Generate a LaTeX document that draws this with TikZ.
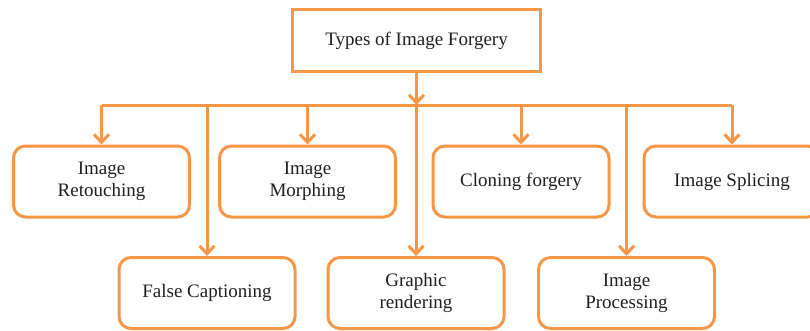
\documentclass[tikz,border=0pt]{standalone}
\usepackage{fontspec}
\setmainfont{Liberation Serif}
\usetikzlibrary{arrows.meta}
\definecolor{forgeorange}{RGB}{247,150,70}
\definecolor{forgetext}{RGB}{35,31,32}
\tikzset{
  typebox/.style={draw=forgeorange, line width=3pt, rounded corners=12pt, fill=white,
    minimum width=176pt, minimum height=71pt, align=center, text=forgetext,
    font=\fontsize{19}{22}\selectfont},
  rootbox/.style={typebox, rounded corners=0pt, minimum width=248pt, minimum height=62pt},
  link/.style={draw=forgeorange, line width=3pt},
  arr/.style={link, -{Straight Barb[length=8pt,width=15pt]}}
}
\begin{document}
\begin{tikzpicture}[x=1pt,y=-1pt]
\useasboundingbox (0,0) rectangle (810,330);

% Root
\node[rootbox] (root) at (416.5,40.5) {Types of Image Forgery};
\coordinate (bus) at (416.5,105);

% Upper row
\node[typebox] (retouch) at (101.5,181.5) {Image\\Retouching};
\node[typebox] (morph) at (307.5,181.5) {Image\\Morphing};
\node[typebox] (clone) at (521,181.5) {Cloning forgery};
\node[typebox] (splice) at (732,181.5) {Image Splicing};

% Lower row
\node[typebox] (caption) at (207,293) {False Captioning};
\node[typebox] (graphic) at (416,293) {Graphic\\rendering};
\node[typebox] (process) at (626.5,293) {Image\\Processing};

% Connectors
\draw[arr] (root.south) -- (bus);
\draw[link] (retouch.north |- bus) -- (splice.north |- bus);
\foreach \n in {retouch,morph,clone,splice,caption,graphic,process}
  \draw[arr] (\n.north |- bus) -- (\n.north);

\end{tikzpicture}
\end{document}
